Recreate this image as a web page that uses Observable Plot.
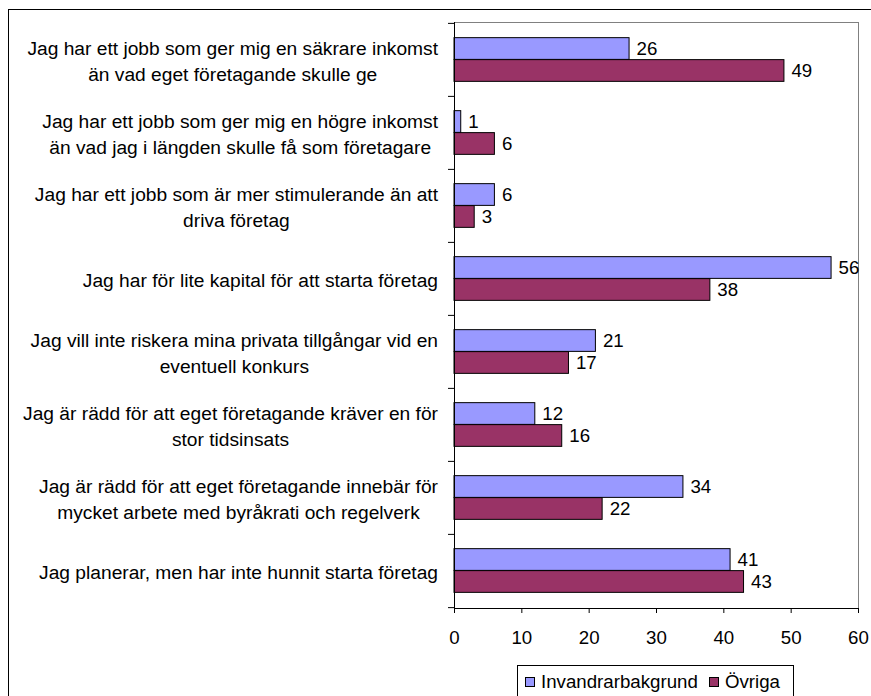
<!DOCTYPE html>
<html>
<head>
<meta charset="utf-8">
<script src="https://cdn.jsdelivr.net/npm/d3@7"></script>
<script src="https://cdn.jsdelivr.net/npm/@observablehq/plot@0.6"></script>
<style>
  html, body { margin: 0; padding: 0; background: #fff; overflow: hidden; width: 871px; height: 696px; }
  #outer { position: absolute; left: 8px; top: 9px; width: 1000px; height: 1000px; border: 1px solid #000; box-sizing: border-box; }
  #chart { position: absolute; left: 0; top: 0; }
  #legend { position: absolute; left: 517px; top: 665px; width: 277px; height: 34px; border: 1px solid #000; box-sizing: border-box; background: #fff;
    display: flex; align-items: center; padding-left: 7px; font-family: "Liberation Sans", Arial, sans-serif; font-size: 18.7px; color: #000; }
  .sw { width: 10px; height: 10px; border: 1px solid #000; box-sizing: border-box; margin-right: 6px; }
  .item { display: flex; align-items: center; margin-right: 11px; }
</style>
</head>
<body>
<div id="outer"></div>
<div id="chart"></div>
<div id="legend"></div>
<script>
const categories = [
  "Jag har ett jobb som ger mig en säkrare inkomst\nän vad eget företagande skulle ge",
  "Jag har ett jobb som ger mig en högre inkomst\nän vad jag i längden skulle få som företagare",
  "Jag har ett jobb som är mer stimulerande än att\ndriva företag",
  "Jag har för lite kapital för att starta företag",
  "Jag vill inte riskera mina privata tillgångar vid en\neventuell konkurs",
  "Jag är rädd för att eget företagande kräver en för\nstor tidsinsats",
  "Jag är rädd för att eget företagande innebär för\nmycket arbete med byråkrati och regelverk",
  "Jag planerar, men har inte hunnit starta företag"
];
const seriesNames = ["Invandrarbakgrund", "Övriga"];
const seriesColors = ["#9999FF", "#993366"];
const invandrar = [26, 1, 6, 56, 21, 12, 34, 41];
const ovriga = [49, 6, 3, 38, 17, 16, 22, 43];
const xTicks = [0, 10, 20, 30, 40, 50, 60];

const FS = 18.7;
const LFS = 19.2;
const FONT = '"Liberation Sans", Arial, sans-serif';
const W = 871, H = 660, mTop = 22, mBottom = 52, mLeft = 454, mRight = 13;
const bw = (H - mTop - mBottom) / categories.length;
const barH = 0.3 * bw, padT = 0.2 * bw;

const rows = [invandrar, ovriga].map(vals => categories.map((c, i) => ({category: c, value: vals[i]})));

const ctx = document.createElement("canvas").getContext("2d");
ctx.font = `${LFS}px ${FONT}`;
const labelMarks = categories.map(c => {
  const w = Math.max(...c.split("\n").map(l => ctx.measureText(l).width));
  return Plot.text([c], {y: d => d, text: d => d, frameAnchor: "left", textAnchor: "middle",
    lineHeight: 1.32, dx: -(16.5 + w / 2), fill: "#000", fontSize: LFS});
});

const insets = [
  {insetTop: padT, insetBottom: bw - padT - barH},
  {insetTop: padT + barH, insetBottom: padT}
];

const chart = Plot.plot({
  width: W, height: H,
  marginTop: mTop, marginBottom: mBottom, marginLeft: mLeft, marginRight: mRight,
  style: {fontFamily: FONT, fontSize: FS + "px", color: "#000", background: "transparent", overflow: "visible"},
  x: {domain: [0, 60]},
  y: {type: "band", domain: categories, padding: 0},
  marks: [
    Plot.frame({stroke: "#808080"}),
    ...rows.map((r, s) => Plot.barX(r, {x: "value", y: "category", fill: seriesColors[s], stroke: "#000", strokeWidth: 1, ...insets[s]})),
    ...rows.map((r, s) => Plot.text(r, {x: "value", y: "category", text: d => String(d.value), textAnchor: "start", dx: 7,
      dy: s === 0 ? -(barH / 2) : (barH / 2), fill: "#000", fontSize: FS})),
    Plot.ruleX([0], {stroke: "#000"}),
    Plot.frame({anchor: "bottom", stroke: "#000"}),
    Plot.axisX({ticks: xTicks, tickSize: 5, tickPadding: 17, label: null, fontSize: FS}),
    Plot.axisY({tickSize: 6, tickFormat: () => "", dy: -bw / 2, label: null}),
    Plot.axisY([categories[categories.length - 1]], {tickSize: 6, tickFormat: () => "", dy: bw / 2, label: null}),
    ...labelMarks
  ]
});
document.getElementById("chart").appendChild(chart);

const legend = document.getElementById("legend");
seriesNames.forEach((n, i) => {
  const it = document.createElement("div");
  it.className = "item";
  const sw = document.createElement("div");
  sw.className = "sw";
  sw.style.background = seriesColors[i];
  const t = document.createElement("span");
  t.textContent = n;
  it.appendChild(sw); it.appendChild(t);
  legend.appendChild(it);
});
</script>
</body>
</html>
